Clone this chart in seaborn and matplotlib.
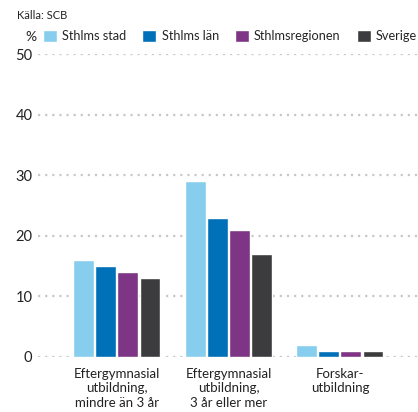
import pandas as pd
import matplotlib.pyplot as plt
import seaborn as sns

# data
categories = ["Eftergymnasial\nutbildning,\nmindre än 3 år",
              "Eftergymnasial\nutbildning,\n3 år eller mer",
              "Forskar-\nutbildning"]
regions = ["Sthlms stad", "Sthlms län", "Sthlmsregionen", "Sverige"]
sthlms_stad = [16, 29, 2]
sthlms_lan = [15, 23, 1]
sthlmsregionen = [14, 21, 1]
sverige = [13, 17, 1]
colors = ["#87CEEE", "#0070B8", "#7E3585", "#3C3C3E"]

rows = []
for reg, vals in zip(regions, [sthlms_stad, sthlms_lan, sthlmsregionen, sverige]):
    for cat, v in zip(categories, vals):
        rows.append({"kategori": cat, "region": reg, "procent": v})
df = pd.DataFrame(rows)

sns.set_style("white")
plt.rcParams["font.family"] = ["Lato", "DejaVu Sans"]

fig = plt.figure(figsize=(4.18, 4.12), dpi=100)
ax = fig.add_axes([38 / 418, 55 / 412, 380 / 418, 303 / 412])

sns.barplot(data=df, x="kategori", y="procent", hue="region",
            palette=colors, width=0.79, gap=0.05, errorbar=None,
            saturation=1, ax=ax, zorder=3)

ax.set_ylim(0, 50)
ax.set_yticks([0, 10, 20, 30, 40, 50])
ax.set_xlim(-0.708, 2.70)
ax.grid(axis="y", color="#C8C8C8", linestyle=(0, (1, 2.2)), linewidth=1.6)
ax.set_axisbelow(True)
for s in ax.spines.values():
    s.set_visible(False)
ax.tick_params(axis="y", length=0, labelsize=10.5, colors="#222222", pad=4)
ax.tick_params(axis="x", length=0, labelsize=9.5, colors="#222222", pad=8)
for lbl in ax.get_xticklabels():
    lbl.set_linespacing(1.22)
ax.set_xlabel("")
ax.set_ylabel("")

sns.move_legend(ax, "lower left", bbox_to_anchor=(43 / 418, 1 - 42 / 412),
                bbox_transform=fig.transFigure, ncol=4, frameon=False,
                title=None, fontsize=9.2, handlelength=1.1, handleheight=1.05,
                handletextpad=0.4, columnspacing=1.25, borderaxespad=0,
                borderpad=0)

fig.text(25 / 418, 1 - 41 / 412, "%", fontsize=10, color="#222222")
fig.text(17 / 418, 1 - 19 / 412, "Källa: SCB", fontsize=8, color="#222222")

fig.savefig("out.png", dpi=100)
